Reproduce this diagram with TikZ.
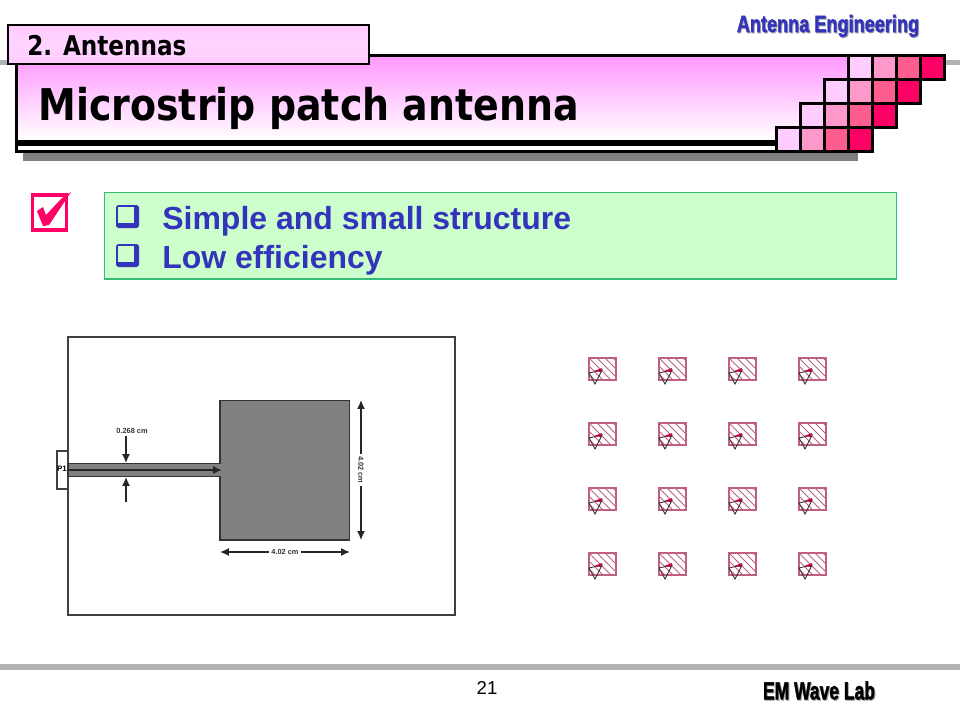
\documentclass[tikz,border=0pt]{standalone}
\usepackage{fontspec}
\usepackage{graphicx}
\setmainfont{Liberation Sans}
\newfontfamily\titlefont{DejaVu Sans}
\newfontfamily\heavyfont[BoldFeatures={FakeBold=2}]{Liberation Sans}
\usetikzlibrary{arrows.meta}
\definecolor{headpink}{HTML}{FF99FF}
\definecolor{tabpink}{HTML}{FFCCFF}
\definecolor{hotpink}{HTML}{FF0066}
\definecolor{textblue}{HTML}{3333BB}
\definecolor{mintfill}{HTML}{CCFFCC}
\definecolor{mintline}{HTML}{33BB77}
\definecolor{bandgrey}{HTML}{B2B2B2}
\definecolor{patchgrey}{HTML}{808080}
\definecolor{hatchpink}{HTML}{C06080}
\tikzset{
    cellbox/.style={draw=black, line width=1.7pt},
    dimline/.style={draw=black!85, line width=0.8pt, -{Latex[length=5pt,width=4.5pt]}},
    dimtext/.style={inner sep=1pt, font=\fontsize{4.2}{5}\selectfont\bfseries, text=black!80},
    heavytext/.style={inner sep=0pt},
    bodytext/.style={anchor=base west, inner sep=0pt, text=textblue, font=\fontsize{18.2}{22}\selectfont\bfseries}
}
\newcommand{\heavy}[2]{\scalebox{#1}[1]{#2}}
\begin{document}
\begin{tikzpicture}[x=0.02cm, y=-0.02cm]
    \useasboundingbox (0,0) rectangle (960,720);
    % bands
    \fill[bandgrey] (0,60) rectangle (960,65);
    \fill[bandgrey] (0,664) rectangle (960,670);
    % header
    \fill[patchgrey] (23,153) rectangle (858,161);
    \fill[white] (15,55) rectangle (872,152);
    \shade[top color=headpink, bottom color=white] (17,57) rectangle (850,140);
    \draw[black, line width=1.7pt] (16.5,55.5) -- (946,55.5);
    \draw[black, line width=1.7pt] (16.5,55.5) -- (16.5,151.5) -- (872,151.5);
    \fill[black] (16,140) rectangle (800,146);
    \foreach \row/\xs in {0/848, 1/824, 2/800, 3/776} {
        \foreach \col/\shadecol in {0/FFCCFF, 1/FF99CC, 2/FF5C8F, 3/FF0066} {
            \definecolor{cellcol}{HTML}{\shadecol}
            \draw[cellbox, fill=cellcol] ({\xs+\col*24},{55.5+\row*24.1}) rectangle ({\xs+24+\col*24},{79.6+\row*24.1});
        }
    }
    \shade[top color=tabpink, bottom color=tabpink, middle color=tabpink!85!white, draw=black, line width=1.7pt] (8,25) rectangle (369,64);
    \node[anchor=base west, inner sep=0pt, font=\titlefont\fontsize{15.5}{18}\selectfont\bfseries] (tabtitle) at (27,55) {\heavy{0.85}{2. Antennas}};
    \node[anchor=base west, inner sep=0pt, font=\titlefont\fontsize{24.9}{28}\selectfont\bfseries] (maintitle) at (38,120) {\heavy{0.867}{Microstrip patch antenna}};
    % top right label
    \node[heavytext, text=black!35, font=\heavyfont\fontsize{13.4}{15}\selectfont\bfseries] (courseshadow) at (829,27) {\heavy{0.77}{Antenna Engineering}};
    \node[heavytext, text=textblue, font=\heavyfont\fontsize{13.4}{15}\selectfont\bfseries] (course) at (828,26) {\heavy{0.77}{Antenna Engineering}};
    % check box
    \draw[hotpink, line width=2pt] (32.5,195) rectangle (66.5,230);
    \fill[hotpink] (37,211) -- (43,207) -- (46,215) -- (62,198) -- (71,192) -- (49,225) -- (43,226) -- cycle;
    % text box
    \draw[mintline, line width=0.6pt, fill=mintfill] (104.5,192.5) rectangle (896.5,279);
    \foreach \ypos/\txt in {229/Simple and small structure, 268/Low efficiency} {
        \fill[textblue, rounded corners=1.5pt] (116,{\ypos-24}) rectangle (139,{\ypos-1});
        \fill[mintfill] (118,{\ypos-22.5}) rectangle (134,{\ypos-6});
        \node[bodytext] at (162,\ypos) {\txt};
    }
    % microstrip layout
    \draw[black!75, line width=0.7pt, fill=white] (68,337) rectangle (455,615);
    \draw[black!75, line width=0.6pt, fill=white] (57,451) rectangle (68,489);
    \node[inner sep=0pt, font=\fontsize{4.5}{5}\selectfont\bfseries] (portlabel) at (62,469) {P1};
    \draw[black!80, line width=0.8pt, fill=patchgrey] (68,463.5) -- (220,463.5) -- (220,400.5) -- (349.5,400.5) -- (349.5,540) -- (220,540) -- (220,476.5) -- (68,476.5) -- cycle;
    \coordinate (feedstart) at (68,470);
    \coordinate (feedend) at (222,470);
    \draw[dimline, line width=1pt] (feedstart) -- (feedend);
    \node[dimtext] (widthlabel) at (132,431) {0.268 cm};
    \coordinate (widthtop) at (126,463);
    \coordinate (widthbot) at (126,477);
    \coordinate (widthlow) at (126,502);
    \draw[dimline] (widthlabel.south -| widthtop) -- (widthtop);
    \draw[dimline] (widthlow) -- (widthbot);
    \node[dimtext, rotate=-90] (heightlabel) at (361,470) {4.02 cm};
    \coordinate (heighttop) at (361,400);
    \coordinate (heightbot) at (361,540);
    \draw[dimline] (heightlabel) -- (heighttop);
    \draw[dimline] (heightlabel) -- (heightbot);
    \node[dimtext] (lengthlabel) at (285,552) {4.02 cm};
    \coordinate (lengthleft) at (220,552);
    \coordinate (lengthright) at (350,552);
    \draw[dimline] (lengthlabel) -- (lengthleft);
    \draw[dimline] (lengthlabel) -- (lengthright);
    % array of elements
    \foreach \xc in {589,659,729,799} {
        \foreach \yc in {358,423,488,553} {
            \begin{scope}[shift={(\xc,\yc)}]
                \begin{scope}
                    \clip (0,0) rectangle (27,22);
                    \foreach \d in {-16,-8,0,8,16,24} {
                        \draw[hatchpink, line width=0.5pt] (\d,0) -- ({\d+22},22);
                    }
                \end{scope}
                \draw[hatchpink, line width=0.6pt] (0,0) rectangle (27,22);
                \draw[black!80, line width=0.5pt] (0,15) -- (13,12) -- (6,26) -- cycle;
                \fill[hotpink!75!black] (5,13) -- (13,10) -- (12,14) -- cycle;
            \end{scope}
        }
    }
    % footer
    \node[inner sep=0pt, font=\fontsize{10.6}{12}\selectfont] (pagenum) at (487,688) {21};
    \node[heavytext, text=black!35, font=\heavyfont\fontsize{14.2}{16}\selectfont\bfseries] (labshadow) at (820,691.5) {\heavy{0.70}{EM Wave Lab}};
    \node[heavytext, text=black, font=\heavyfont\fontsize{14.2}{16}\selectfont\bfseries] (lab) at (819,690.5) {\heavy{0.70}{EM Wave Lab}};
\end{tikzpicture}
\end{document}
